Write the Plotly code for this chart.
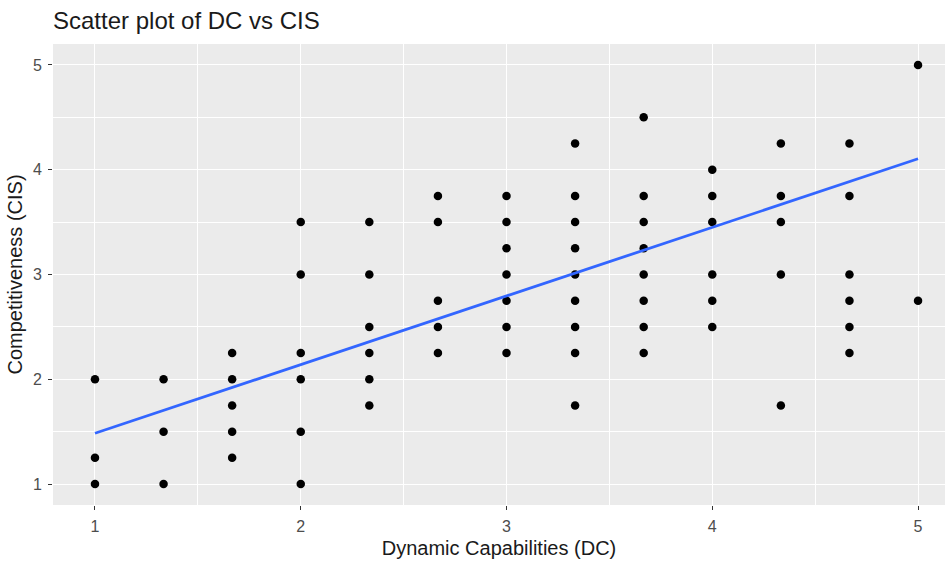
import plotly.graph_objects as go

# Data
dc_levels = [1, 4/3, 5/3, 2, 7/3, 8/3, 3, 10/3, 11/3, 4, 13/3, 14/3, 5]
cis_by_dc = [
    [2, 1.25, 1],
    [2, 1.5, 1],
    [2.25, 2, 1.75, 1.5, 1.25],
    [3.5, 3, 2.25, 2, 1.5, 1],
    [3.5, 3, 2.5, 2.25, 2, 1.75],
    [3.75, 3.5, 2.75, 2.5, 2.25],
    [3.75, 3.5, 3.25, 3, 2.75, 2.5, 2.25],
    [4.25, 3.75, 3.5, 3.25, 3, 2.75, 2.5, 2.25, 1.75],
    [4.5, 3.75, 3.5, 3.25, 3, 2.75, 2.5, 2.25],
    [4, 3.75, 3.5, 3, 2.75, 2.5],
    [4.25, 3.75, 3.5, 3, 1.75],
    [4.25, 3.75, 3, 2.75, 2.5, 2.25],
    [5, 2.75],
]
fit_x = [1, 5]
fit_y = [1.485, 4.105]

dc = []
cis = []
for xv, ys in zip(dc_levels, cis_by_dc):
    for yv in ys:
        dc.append(xv)
        cis.append(yv)

fig = go.Figure()
fig.add_trace(go.Scatter(x=dc, y=cis, mode="markers",
                         marker=dict(color="black", size=8.5),
                         showlegend=False, hoverinfo="skip"))
fig.add_trace(go.Scatter(x=fit_x, y=fit_y, mode="lines",
                         line=dict(color="#3366FF", width=2.8),
                         showlegend=False, hoverinfo="skip"))

FONT = "Liberation Sans, Arial, sans-serif"
tickfont = dict(family=FONT, size=16, color="#4d4d4d")
titlefont = dict(family=FONT, size=20, color="#1a1a1a")

fig.update_layout(
    width=945, height=561,
    margin=dict(l=53, r=0, t=44, b=56),
    paper_bgcolor="white",
    plot_bgcolor="#EBEBEB",
    title=dict(text="Scatter plot of DC vs CIS", x=53/945, xanchor="left",
               y=1 - 21/561, yanchor="middle",
               font=dict(family=FONT, size=24, color="#1a1a1a")),
    xaxis=dict(range=[0.796, 5.131], tickvals=[1, 2, 3, 4, 5], ticktext=["1", "2", "3", "4", "5"],
               showgrid=True, gridcolor="white", gridwidth=1.3, zeroline=False,
               ticks="outside", ticklen=4, tickcolor="#333333", tickwidth=1.1,
               tickfont=tickfont, showline=False, ticklabelstandoff=3,
               minor=dict(tickvals=[1.5, 2.5, 3.5, 4.5], showgrid=True, gridcolor="white", gridwidth=0.6, ticks=""),
               title=dict(text="Dynamic Capabilities (DC)", font=titlefont, standoff=6)),
    yaxis=dict(range=[0.8, 5.2], tickvals=[1, 2, 3, 4, 5], ticktext=["1", "2", "3", "4", "5"],
               showgrid=True, gridcolor="white", gridwidth=1.3, zeroline=False,
               ticks="outside", ticklen=4, tickcolor="#333333", tickwidth=1.1,
               tickfont=tickfont, showline=False, ticklabelstandoff=3,
               minor=dict(tickvals=[1.5, 2.5, 3.5, 4.5], showgrid=True, gridcolor="white", gridwidth=0.6, ticks=""),
               title=dict(text="Competitiveness (CIS)", font=titlefont, standoff=4)),
)

fig.write_html("out.html")
